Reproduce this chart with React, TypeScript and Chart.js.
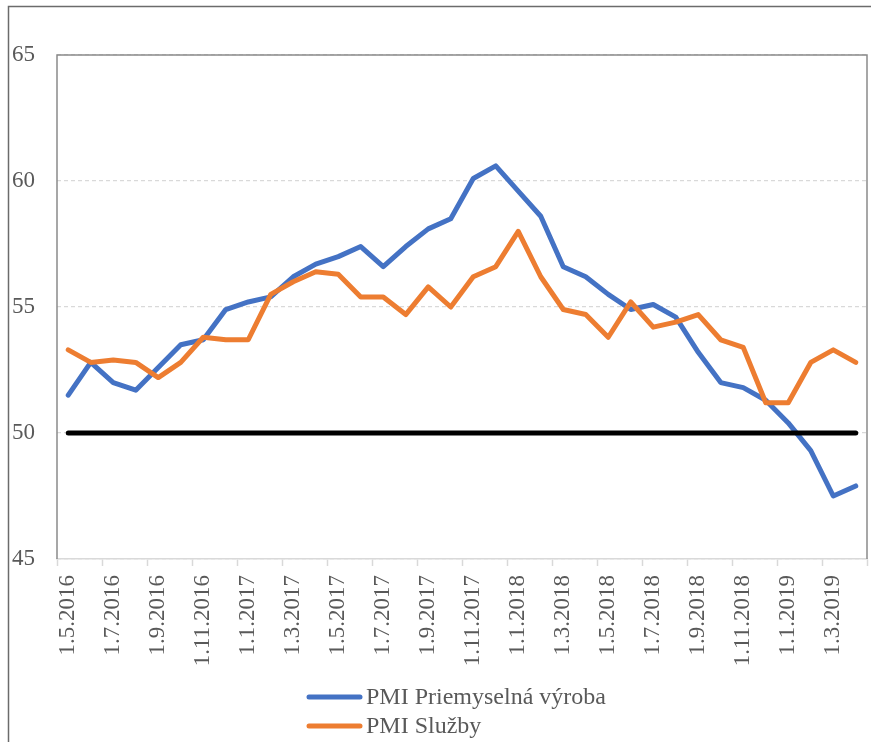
import React, { useEffect, useRef } from 'react';
import { Chart, registerables } from 'chart.js';

Chart.register(...registerables);

const months: string[] = [
  '1.5.2016', '1.6.2016', '1.7.2016', '1.8.2016', '1.9.2016', '1.10.2016', '1.11.2016', '1.12.2016',
  '1.1.2017', '1.2.2017', '1.3.2017', '1.4.2017', '1.5.2017', '1.6.2017', '1.7.2017', '1.8.2017',
  '1.9.2017', '1.10.2017', '1.11.2017', '1.12.2017',
  '1.1.2018', '1.2.2018', '1.3.2018', '1.4.2018', '1.5.2018', '1.6.2018', '1.7.2018', '1.8.2018',
  '1.9.2018', '1.10.2018', '1.11.2018', '1.12.2018',
  '1.1.2019', '1.2.2019', '1.3.2019', '1.4.2019',
];

const manufacturing: number[] = [
  51.5, 52.8, 52.0, 51.7, 52.6, 53.5, 53.7, 54.9,
  55.2, 55.4, 56.2, 56.7, 57.0, 57.4, 56.6, 57.4, 58.1, 58.5, 60.1, 60.6,
  59.6, 58.6, 56.6, 56.2, 55.5, 54.9, 55.1, 54.6, 53.2, 52.0, 51.8, 51.3,
  50.4, 49.3, 47.5, 47.9,
];

const services: number[] = [
  53.3, 52.8, 52.9, 52.8, 52.2, 52.8, 53.8, 53.7,
  53.7, 55.5, 56.0, 56.4, 56.3, 55.4, 55.4, 54.7, 55.8, 55.0, 56.2, 56.6,
  58.0, 56.2, 54.9, 54.7, 53.8, 55.2, 54.2, 54.4, 54.7, 53.7, 53.4, 51.2,
  51.2, 52.8, 53.3, 52.8,
];

const thresholdLevel = 50;
const threshold: number[] = months.map(() => thresholdLevel);

const seriesNames: string[] = ['PMI Priemyselná výroba', 'PMI Služby'];
const seriesColors: string[] = ['#4472C4', '#ED7D31'];

const yTicks: number[] = [45, 50, 55, 60, 65];

const FONT = "'Liberation Serif', 'Times New Roman', serif";
const TEXT = '#595959';

const framePlugin = {
  id: 'frame',
  beforeDatasetsDraw(chart: any) {
    const { ctx, chartArea } = chart;
    ctx.save();
    ctx.strokeStyle = '#8a8a8a';
    ctx.lineWidth = 1.5;
    ctx.beginPath();
    ctx.moveTo(chartArea.left, chartArea.bottom);
    ctx.lineTo(chartArea.left, chartArea.top);
    ctx.lineTo(chartArea.right, chartArea.top);
    ctx.lineTo(chartArea.right, chartArea.bottom);
    ctx.stroke();
    ctx.restore();
  },
  afterDraw(chart: any) {
    const { ctx, width, height } = chart;
    ctx.save();
    // outer chart border (top and left visible)
    ctx.strokeStyle = '#6b6b6b';
    ctx.lineWidth = 1.5;
    ctx.beginPath();
    ctx.moveTo(8.5, height);
    ctx.lineTo(8.5, 6.5);
    ctx.lineTo(width, 6.5);
    ctx.stroke();
    // legend
    ctx.font = `24px ${FONT}`;
    ctx.textBaseline = 'middle';
    ctx.textAlign = 'left';
    seriesNames.forEach((name, k) => {
      const y = 697 + k * 29;
      ctx.strokeStyle = seriesColors[k];
      ctx.lineWidth = 5;
      ctx.lineCap = 'round';
      ctx.beginPath();
      ctx.moveTo(309, y);
      ctx.lineTo(360, y);
      ctx.stroke();
      ctx.fillStyle = TEXT;
      ctx.fillText(name, 366, y + 1);
    });
    ctx.restore();
  },
};

export default function App() {
  const canvasRef = useRef<HTMLCanvasElement | null>(null);

  useEffect(() => {
    if (!canvasRef.current) return;
    const lineBase = {
      borderWidth: 5,
      pointRadius: 0,
      pointHoverRadius: 0,
      tension: 0,
      fill: false,
      borderCapStyle: 'round' as const,
      borderJoinStyle: 'round' as const,
    };
    const chart = new Chart(canvasRef.current, {
      type: 'line',
      data: {
        labels: months,
        datasets: [
          { ...lineBase, label: seriesNames[0], data: manufacturing, borderColor: seriesColors[0], backgroundColor: seriesColors[0], order: 2 },
          { ...lineBase, label: seriesNames[1], data: services, borderColor: seriesColors[1], backgroundColor: seriesColors[1], order: 1 },
          { ...lineBase, label: '50', data: threshold, borderColor: '#000000', backgroundColor: '#000000', order: 0 },
        ],
      },
      options: {
        animation: false,
        responsive: true,
        maintainAspectRatio: false,
        layout: { padding: { left: 0, right: 4, top: 55, bottom: 0 } },
        plugins: {
          legend: { display: false },
          tooltip: { enabled: false },
          title: { display: false },
        },
        scales: {
          x: {
            type: 'category',
            offset: true,
            grid: {
              offset: true,
              drawOnChartArea: false,
              drawTicks: true,
              tickLength: 7,
              tickWidth: 1.5,
              tickColor: (c: any) => (c.index === undefined || c.index % 2 === 0 ? '#d9d9d9' : 'rgba(0,0,0,0)'),
              color: 'rgba(0,0,0,0)',
            },
            border: { display: true, color: '#d9d9d9', width: 1.5 },
            ticks: {
              autoSkip: false,
              maxRotation: 90,
              minRotation: 90,
              padding: 9,
              color: TEXT,
              font: { family: FONT, size: 23 },
              callback: (_v: any, i: number) => (i % 2 === 0 ? months[i] : ''),
            },
            afterFit: (scale: any) => {
              scale.height = 183;
              scale.paddingLeft = 0;
              scale.paddingRight = 0;
            },
          },
          y: {
            min: yTicks[0],
            max: yTicks[yTicks.length - 1],
            afterBuildTicks: (scale: any) => {
              scale.ticks = yTicks.map((v) => ({ value: v }));
            },
            grid: {
              drawTicks: false,
              color: '#d9d9d9',
              lineWidth: 1.3,
            },
            border: { display: false, dash: [4, 3] },
            ticks: {
              padding: 22,
              color: TEXT,
              font: { family: FONT, size: 23 },
            },
            afterFit: (scale: any) => {
              scale.width = 57;
              scale.paddingTop = 0;
              scale.paddingBottom = 0;
            },
          },
        },
      },
      plugins: [framePlugin],
    });
    return () => chart.destroy();
  }, []);

  return (
    <div style={{ position: 'absolute', left: 0, top: 0, width: 871, height: 742, background: '#ffffff' }}>
      <canvas ref={canvasRef} />
    </div>
  );
}
